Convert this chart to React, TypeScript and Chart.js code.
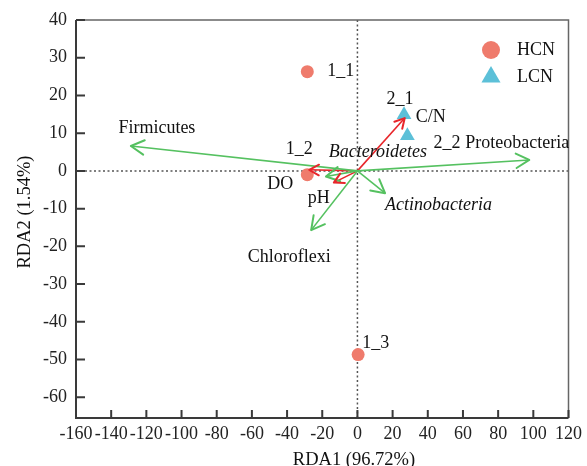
import React, { useEffect, useRef } from 'react';
import { Chart, registerables } from 'chart.js';
Chart.register(...registerables);

const FONT = '"Liberation Serif", "Times New Roman", serif';

// ---- data ----
const hcnLabels = ['1_1', '1_2', '1_3'];
const hcnX = [-28.5, -28.5, 0.4];
const hcnY = [26.3, -1.0, -48.7];

const lcnLabels = ['2_1', '2_2'];
const lcnX = [26.5, 28.4];
const lcnY = [14.9, 9.3];

const speciesNames = ['Firmicutes', 'Proteobacteria', 'Actinobacteria', 'Chloroflexi', 'Bacteroidetes'];
const speciesX = [-128.8, 97.7, 15.7, -26.3, -17.9];
const speciesY = [6.6, 2.9, -5.9, -15.7, -1.5];

const envNames = ['C/N', 'DO', 'pH'];
const envX = [26.9, -27.4, -13.4];
const envY = [14.0, 0.3, -3.1];

const xTicks = [-160, -140, -120, -100, -80, -60, -40, -20, 0, 20, 40, 60, 80, 100, 120];
const yTicks = [-60, -50, -40, -30, -20, -10, 0, 10, 20, 30, 40];
const xMin = -160, xMax = 120;
const yMin = -65.5, yMax = 40;

const xTitle = 'RDA1 (96.72%)';
const yTitle = 'RDA2 (1.54%)';
const groupNames = ['HCN', 'LCN'];

// ---- styles / placement ----
const C_HCN = '#EF7B6C';
const C_LCN = '#5CC0D8';
const C_GREEN = '#55C160';
const C_RED = '#E8262B';

type Place = { dx: number; dy: number; align: CanvasTextAlign; italic?: boolean };
const labelPlace: Record<string, Place> = {
  '1_1': { dx: 20, dy: 0, align: 'left' },
  '1_2': { dx: -8, dy: -25, align: 'center' },
  '1_3': { dx: 4, dy: -11, align: 'left' },
  '2_1': { dx: -4, dy: -15, align: 'center' },
  '2_2': { dx: 26, dy: 7, align: 'left' },
  Firmicutes: { dx: 26, dy: -18, align: 'center' },
  Proteobacteria: { dx: -12, dy: -17, align: 'center' },
  Actinobacteria: { dx: 0, dy: 12, align: 'left', italic: true },
  Chloroflexi: { dx: -22, dy: 27, align: 'center' },
  Bacteroidetes: { dx: 52, dy: -24, align: 'center', italic: true },
  'C/N': { dx: 26, dy: -1, align: 'center' },
  DO: { dx: -29, dy: 14, align: 'center' },
  pH: { dx: -15, dy: 16, align: 'center' },
};

const overlay = {
  id: 'overlay',
  beforeDatasetsDraw(chart: any) {
    const { ctx, chartArea, scales } = chart;
    const { left, right, top, bottom } = chartArea;
    const x = scales.x, y = scales.y;
    ctx.save();
    // zero lines (dotted)
    ctx.strokeStyle = '#555';
    ctx.lineWidth = 1.5;
    ctx.setLineDash([2, 2.5]);
    const x0 = x.getPixelForValue(0), y0 = y.getPixelForValue(0);
    ctx.beginPath();
    ctx.moveTo(x0, top); ctx.lineTo(x0, bottom);
    ctx.moveTo(left, y0); ctx.lineTo(right, y0);
    ctx.stroke();
    ctx.setLineDash([]);
    // frame
    ctx.strokeStyle = '#666';
    ctx.lineWidth = 1.5;
    ctx.beginPath();
    ctx.moveTo(left, top); ctx.lineTo(right, top); ctx.lineTo(right, bottom);
    ctx.stroke();
    ctx.strokeStyle = '#3a3a3a';
    ctx.lineWidth = 2;
    ctx.beginPath();
    ctx.moveTo(left, top); ctx.lineTo(left, bottom); ctx.lineTo(right, bottom);
    ctx.stroke();
    // inward ticks
    ctx.lineWidth = 2;
    ctx.beginPath();
    xTicks.forEach((v) => {
      const px = x.getPixelForValue(v);
      ctx.moveTo(px, bottom); ctx.lineTo(px, bottom - 8);
    });
    yTicks.forEach((v) => {
      const py = y.getPixelForValue(v);
      ctx.moveTo(left, py); ctx.lineTo(left + 9, py);
    });
    ctx.stroke();
    ctx.restore();
  },
  afterDatasetsDraw(chart: any) {
    const { ctx } = chart;
    ctx.save();
    // arrowheads
    chart.data.datasets.forEach((ds: any, i: number) => {
      if (!ds.arrow) return;
      const meta = chart.getDatasetMeta(i);
      const p0 = meta.data[0], p1 = meta.data[1];
      const ang = Math.atan2(p1.y - p0.y, p1.x - p0.x);
      const len = ds.headLen, spread = 0.5;
      ctx.strokeStyle = ds.borderColor;
      ctx.lineWidth = 2;
      ctx.lineCap = 'round';
      ctx.lineJoin = 'round';
      ctx.beginPath();
      ctx.moveTo(p1.x - len * Math.cos(ang - spread), p1.y - len * Math.sin(ang - spread));
      ctx.lineTo(p1.x, p1.y);
      ctx.lineTo(p1.x - len * Math.cos(ang + spread), p1.y - len * Math.sin(ang + spread));
      ctx.stroke();
    });
    // labels
    ctx.fillStyle = '#111';
    ctx.textBaseline = 'middle';
    chart.data.datasets.forEach((ds: any, i: number) => {
      const meta = chart.getDatasetMeta(i);
      const names: string[] = ds.pointLabels;
      if (!names) return;
      names.forEach((name, j) => {
        const el = ds.arrow ? meta.data[1] : meta.data[j];
        if (!el || !name) return;
        const pl = labelPlace[name] || { dx: 0, dy: 0, align: 'left' };
        ctx.font = `${pl.italic ? 'italic ' : ''}18px ${FONT}`;
        ctx.textAlign = pl.align;
        ctx.fillText(name, el.x + pl.dx, el.y + pl.dy);
      });
    });
    // legend
    const lx = 491, ly = [50, 77];
    ctx.fillStyle = C_HCN;
    ctx.beginPath();
    ctx.arc(lx, ly[0], 9, 0, Math.PI * 2);
    ctx.fill();
    ctx.fillStyle = C_LCN;
    ctx.beginPath();
    const r = 11;
    ctx.moveTo(lx, ly[1] - r);
    ctx.lineTo(lx + r * 0.866, ly[1] + r / 2);
    ctx.lineTo(lx - r * 0.866, ly[1] + r / 2);
    ctx.closePath();
    ctx.fill();
    ctx.fillStyle = '#111';
    ctx.font = `18px ${FONT}`;
    ctx.textAlign = 'left';
    ctx.fillText(groupNames[0], 517, ly[0]);
    ctx.fillText(groupNames[1], 517, ly[1]);
    // axis titles
    ctx.font = `18.5px ${FONT}`;
    ctx.textAlign = 'center';
    ctx.fillText(xTitle, 354, 460);
    ctx.save();
    ctx.translate(25, 212);
    ctx.rotate(-Math.PI / 2);
    ctx.fillText(yTitle, 0, 0);
    ctx.restore();
    ctx.restore();
  },
};

export default function App() {
  const ref = useRef<HTMLCanvasElement | null>(null);
  useEffect(() => {
    if (!ref.current) return;
    const pts = (xs: number[], ys: number[]) => xs.map((v, i) => ({ x: v, y: ys[i] }));
    const arrows = (names: string[], xs: number[], ys: number[], color: string, headLen: number) =>
      names.map((n, i) => ({
        type: 'line',
        label: n,
        data: [{ x: 0, y: 0 }, { x: xs[i], y: ys[i] }],
        showLine: true,
        borderColor: color,
        borderWidth: 1.6,
        pointRadius: 0,
        fill: false,
        arrow: true,
        headLen,
        pointLabels: [n],
        order: 1,
      }));
    const chart = new Chart(ref.current, {
      type: 'scatter',
      data: {
        datasets: [
          ...arrows(speciesNames, speciesX, speciesY, C_GREEN, 15),
          ...arrows(envNames, envX, envY, C_RED, 11),
          {
            label: groupNames[0],
            data: pts(hcnX, hcnY),
            pointStyle: 'circle',
            pointRadius: 6.5,
            backgroundColor: C_HCN,
            borderWidth: 0,
            pointLabels: hcnLabels,
            order: 2,
          },
          {
            label: groupNames[1],
            data: pts(lcnX, lcnY),
            pointStyle: 'triangle',
            pointRadius: 8.5,
            backgroundColor: C_LCN,
            borderWidth: 0,
            pointLabels: lcnLabels,
            order: 2,
          },
        ] as any,
      },
      options: {
        animation: false,
        responsive: false,
        devicePixelRatio: 1,
        layout: { padding: { top: 20, right: 10, left: 0, bottom: 0 } },
        plugins: { legend: { display: false }, tooltip: { enabled: false } },
        scales: {
          x: {
            type: 'linear',
            min: xMin,
            max: xMax,
            grid: { display: false, drawTicks: false },
            border: { display: false },
            afterFit: (s: any) => { s.height = 48; },
            afterBuildTicks: (s: any) => { s.ticks = xTicks.map((v) => ({ value: v })); },
            ticks: {
              autoSkip: false,
              maxRotation: 0,
              padding: 5,
              color: '#222',
              font: { family: FONT, size: 18 },
            },
          },
          y: {
            type: 'linear',
            min: yMin,
            max: yMax,
            grid: { display: false, drawTicks: false },
            border: { display: false },
            afterFit: (s: any) => { s.width = 76; },
            afterBuildTicks: (s: any) => { s.ticks = yTicks.map((v) => ({ value: v })); },
            ticks: {
              autoSkip: false,
              padding: 9,
              color: '#222',
              font: { family: FONT, size: 18 },
            },
          },
        },
      } as any,
      plugins: [overlay],
    });
    return () => chart.destroy();
  }, []);
  return (
    <div style={{ position: 'fixed', left: 0, top: 0, width: 587, height: 466, background: '#fff' }}>
      <canvas ref={ref} width={587} height={466} />
    </div>
  );
}
